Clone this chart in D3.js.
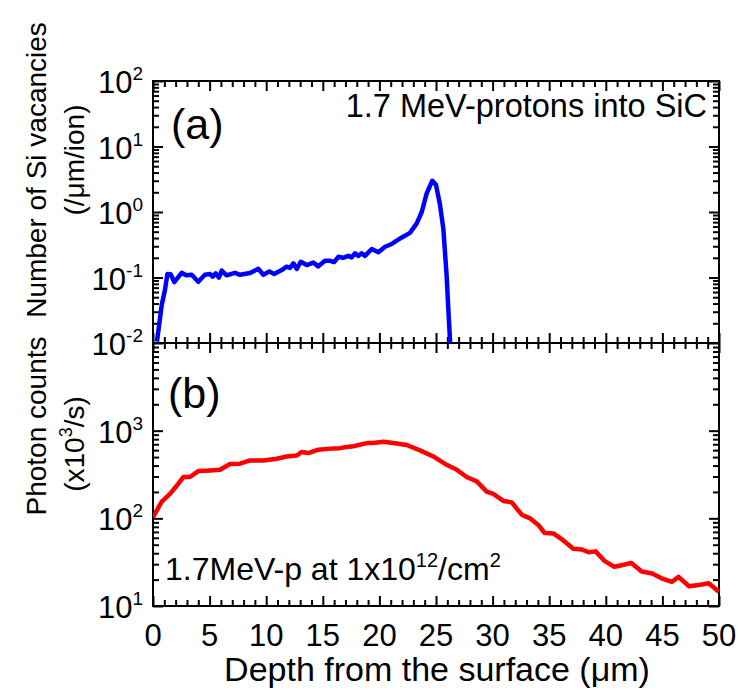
<!DOCTYPE html>
<html>
<head>
<meta charset="utf-8">
<script src="https://cdn.jsdelivr.net/npm/d3@7"></script>
<style>
  body { margin: 0; background: #fff; }
  svg { display: block; font-family: "Liberation Sans", Arial, sans-serif; }
  .tick line { stroke: #000; stroke-width: 2; }
  .domain { display: none; }
</style>
</head>
<body>
<div id="chart"></div>
<script>
// panel (a): SRIM Si vacancies, 1.7 MeV protons
const depthA = [0.35, 0.77, 1.06, 1.27, 1.56, 1.88, 2.53, 2.92, 3.42, 4.0, 4.59, 5.04, 5.27, 5.54, 5.83, 6.07, 6.5, 7.24, 7.69, 8.57,
  9.3, 9.75, 10.28, 10.7, 11.37, 11.8, 12.1, 12.4, 12.7, 13.05, 13.58, 14.16, 14.6, 15.19, 15.64, 16.0, 16.37, 16.8, 17.26, 17.55,
  17.84, 18.14, 18.43, 18.73, 19.32, 19.9, 20.5, 21.09, 21.53, 22.1, 22.7, 23.3, 23.74, 24.18, 24.67, 25.0, 25.35, 25.65, 25.95, 26.1, 26.25];
const vacA = [0.0105, 0.038, 0.065, 0.113, 0.112, 0.085, 0.118, 0.108, 0.11, 0.086, 0.11, 0.113, 0.103, 0.116, 0.1, 0.127, 0.108, 0.118, 0.11, 0.117,
  0.136, 0.11, 0.124, 0.113, 0.13, 0.146, 0.14, 0.165, 0.135, 0.174, 0.155, 0.169, 0.148, 0.18, 0.18, 0.172, 0.207, 0.2, 0.214, 0.203,
  0.234, 0.214, 0.234, 0.214, 0.272, 0.243, 0.295, 0.325, 0.365, 0.42, 0.48, 0.67, 1.0, 1.93, 3.0, 2.6, 1.3, 0.55, 0.1, 0.03, 0.01];

// panel (b): photon counts (x10^3/s)
const depthB = [0.0, 0.77, 1.5, 2.09, 2.68, 3.27, 4.0, 4.74, 5.92, 6.8, 7.69, 8.57, 9.75, 10.93, 11.81, 12.69, 13.13, 13.72, 14.6, 15.93,
  16.52, 17.1, 17.7, 18.88, 19.46, 20.35, 21.23, 22.41, 23.59, 24.76, 25.94, 26.83, 27.71, 28.6, 29.48, 30.06, 30.95, 31.69, 32.57, 33.3,
  34.04, 34.6, 35.4, 36.25, 37.13, 37.9, 38.5, 39.1, 39.85, 40.75, 41.5, 42.25, 43.17, 44.1, 45.0, 45.82, 46.43, 47.35, 48.2, 49.1, 49.8, 50.0];
const photonB = [103, 155, 190, 235, 296, 296, 346, 350, 358, 416, 420, 458, 458, 479, 508, 520, 571, 555, 607, 628,
  632, 650, 665, 722, 722, 748, 722, 686, 596, 508, 408, 358, 296, 264, 202, 190, 158, 152, 110, 100,
  84, 68, 67, 56, 45, 44, 41, 42, 33, 28, 29.4, 31, 24.7, 23.5, 20.5, 18.8, 21.5, 16.8, 17.4, 18.2, 15.2, 14.6];

const xTicks = [0, 5, 10, 15, 20, 25, 30, 35, 40, 45, 50];
const yTicksA = [-2, -1, 0, 1, 2];   // exponents
const yTicksB = [1, 2, 3];

const width = 738, height = 693;
const left = 153, right = 719, topA = 81, mid = 343, bottom = 606;

const svg = d3.select("#chart").append("svg")
  .attr("width", width).attr("height", height);

const x = d3.scaleLinear().domain([0, 50]).range([left, right]);
const yA = d3.scaleLog().domain([0.01, 100]).range([mid, topA]);
const yB = d3.scaleLog().domain([10, 10000]).range([bottom, mid]);

const xMinor = d3.range(0, 51, 1).filter(d => d % 5 !== 0);

function logMinor(lo, hi) {
  const out = [];
  for (let e = lo; e < hi; e++)
    for (let m = 2; m <= 9; m++) out.push(m * Math.pow(10, e));
  return out;
}

function frame(y0, y1, ys, minorY) {
  const h = y1 - y0;
  // x ticks, bottom and top edges, pointing in
  svg.append("g").attr("transform", `translate(0,${y1})`)
    .call(d3.axisBottom(x).tickValues(xTicks).tickSize(-10).tickFormat(""));
  svg.append("g").attr("transform", `translate(0,${y1})`)
    .call(d3.axisBottom(x).tickValues(xMinor).tickSize(-6).tickFormat(""));
  svg.append("g").attr("transform", `translate(0,${y0})`)
    .call(d3.axisTop(x).tickValues(xTicks).tickSize(-10).tickFormat(""));
  svg.append("g").attr("transform", `translate(0,${y0})`)
    .call(d3.axisTop(x).tickValues(xMinor).tickSize(-6).tickFormat(""));
  // y ticks, left and right
  const majors = ys.ticks.map(e => Math.pow(10, e));
  svg.append("g").attr("transform", `translate(${left},0)`)
    .call(d3.axisLeft(ys.scale).tickValues(majors).tickSize(-10).tickFormat(""));
  svg.append("g").attr("transform", `translate(${left},0)`)
    .call(d3.axisLeft(ys.scale).tickValues(minorY).tickSize(-6).tickFormat(""));
  svg.append("g").attr("transform", `translate(${right},0)`)
    .call(d3.axisRight(ys.scale).tickValues(majors).tickSize(-10).tickFormat(""));
  svg.append("g").attr("transform", `translate(${right},0)`)
    .call(d3.axisRight(ys.scale).tickValues(minorY).tickSize(-6).tickFormat(""));

  svg.append("rect")
    .attr("x", left).attr("y", y0).attr("width", right - left).attr("height", h)
    .attr("fill", "none").attr("stroke", "#000").attr("stroke-width", 2);

  // power-of-ten labels
  ys.ticks.forEach(e => {
    const t = svg.append("text")
      .attr("x", left - 10).attr("y", ys.scale(Math.pow(10, e)) + 12)
      .attr("text-anchor", "end").attr("font-size", 31);
    t.append("tspan").text("10");
    t.append("tspan").attr("dy", -13).attr("font-size", 19).text(e);
  });
}

frame(topA, mid, { scale: yA, ticks: yTicksA }, logMinor(-2, 2));
frame(mid, bottom, { scale: yB, ticks: yTicksB }, logMinor(1, 4));

// x tick labels
svg.append("g").selectAll("text").data(xTicks).join("text")
  .attr("x", d => x(d)).attr("y", bottom + 40)
  .attr("text-anchor", "middle").attr("font-size", 31)
  .text(d => d);

// clip each panel
svg.append("clipPath").attr("id", "clipA").append("rect")
  .attr("x", left).attr("y", topA).attr("width", right - left).attr("height", mid - topA);
svg.append("clipPath").attr("id", "clipB").append("rect")
  .attr("x", left).attr("y", mid).attr("width", right - left).attr("height", bottom - mid);

const lineA = d3.line().x((d, i) => x(depthA[i])).y(d => yA(d));
svg.append("path").datum(vacA)
  .attr("clip-path", "url(#clipA)")
  .attr("d", lineA)
  .attr("fill", "none").attr("stroke", "#0000ff").attr("stroke-width", 4.5)
  .attr("stroke-linejoin", "round");

const lineB = d3.line().x((d, i) => x(depthB[i])).y(d => yB(d));
svg.append("path").datum(photonB)
  .attr("clip-path", "url(#clipB)")
  .attr("d", lineB)
  .attr("fill", "none").attr("stroke", "#ff0000").attr("stroke-width", 4.5)
  .attr("stroke-linejoin", "round");

// annotations
svg.append("text").attr("x", 171).attr("y", 139).attr("font-size", 43).text("(a)");
svg.append("text").attr("x", 168).attr("y", 408).attr("font-size", 43).text("(b)");
svg.append("text").attr("x", 707).attr("y", 117).attr("text-anchor", "end")
  .attr("font-size", 32.5).text("1.7 MeV-protons into SiC");

const note = svg.append("text").attr("x", 165).attr("y", 580).attr("font-size", 32);
note.append("tspan").text("1.7MeV-p at 1x10");
note.append("tspan").attr("dy", -13).attr("font-size", 20).text("12");
note.append("tspan").attr("dy", 13).text("/cm");
note.append("tspan").attr("dy", -13).attr("font-size", 20).text("2");

// axis titles
svg.append("text").attr("x", 437).attr("y", 681).attr("text-anchor", "middle")
  .attr("font-size", 34).text("Depth from the surface (μm)");

svg.append("text").attr("transform", "translate(46,170) rotate(-90)")
  .attr("text-anchor", "middle").attr("font-size", 28).text("Number of Si vacancies");
svg.append("text").attr("transform", "translate(84,160) rotate(-90)")
  .attr("text-anchor", "middle").attr("font-size", 28).text("(/μm/ion)");

svg.append("text").attr("transform", "translate(46,426) rotate(-90)")
  .attr("text-anchor", "middle").attr("font-size", 28).text("Photon counts");
const sub = svg.append("text").attr("transform", "translate(84,444) rotate(-90)")
  .attr("text-anchor", "middle").attr("font-size", 28);
sub.append("tspan").text("(x10");
sub.append("tspan").attr("dy", -12).attr("font-size", 18).text("3");
sub.append("tspan").attr("dy", 12).text("/s)");
</script>
</body>
</html>
